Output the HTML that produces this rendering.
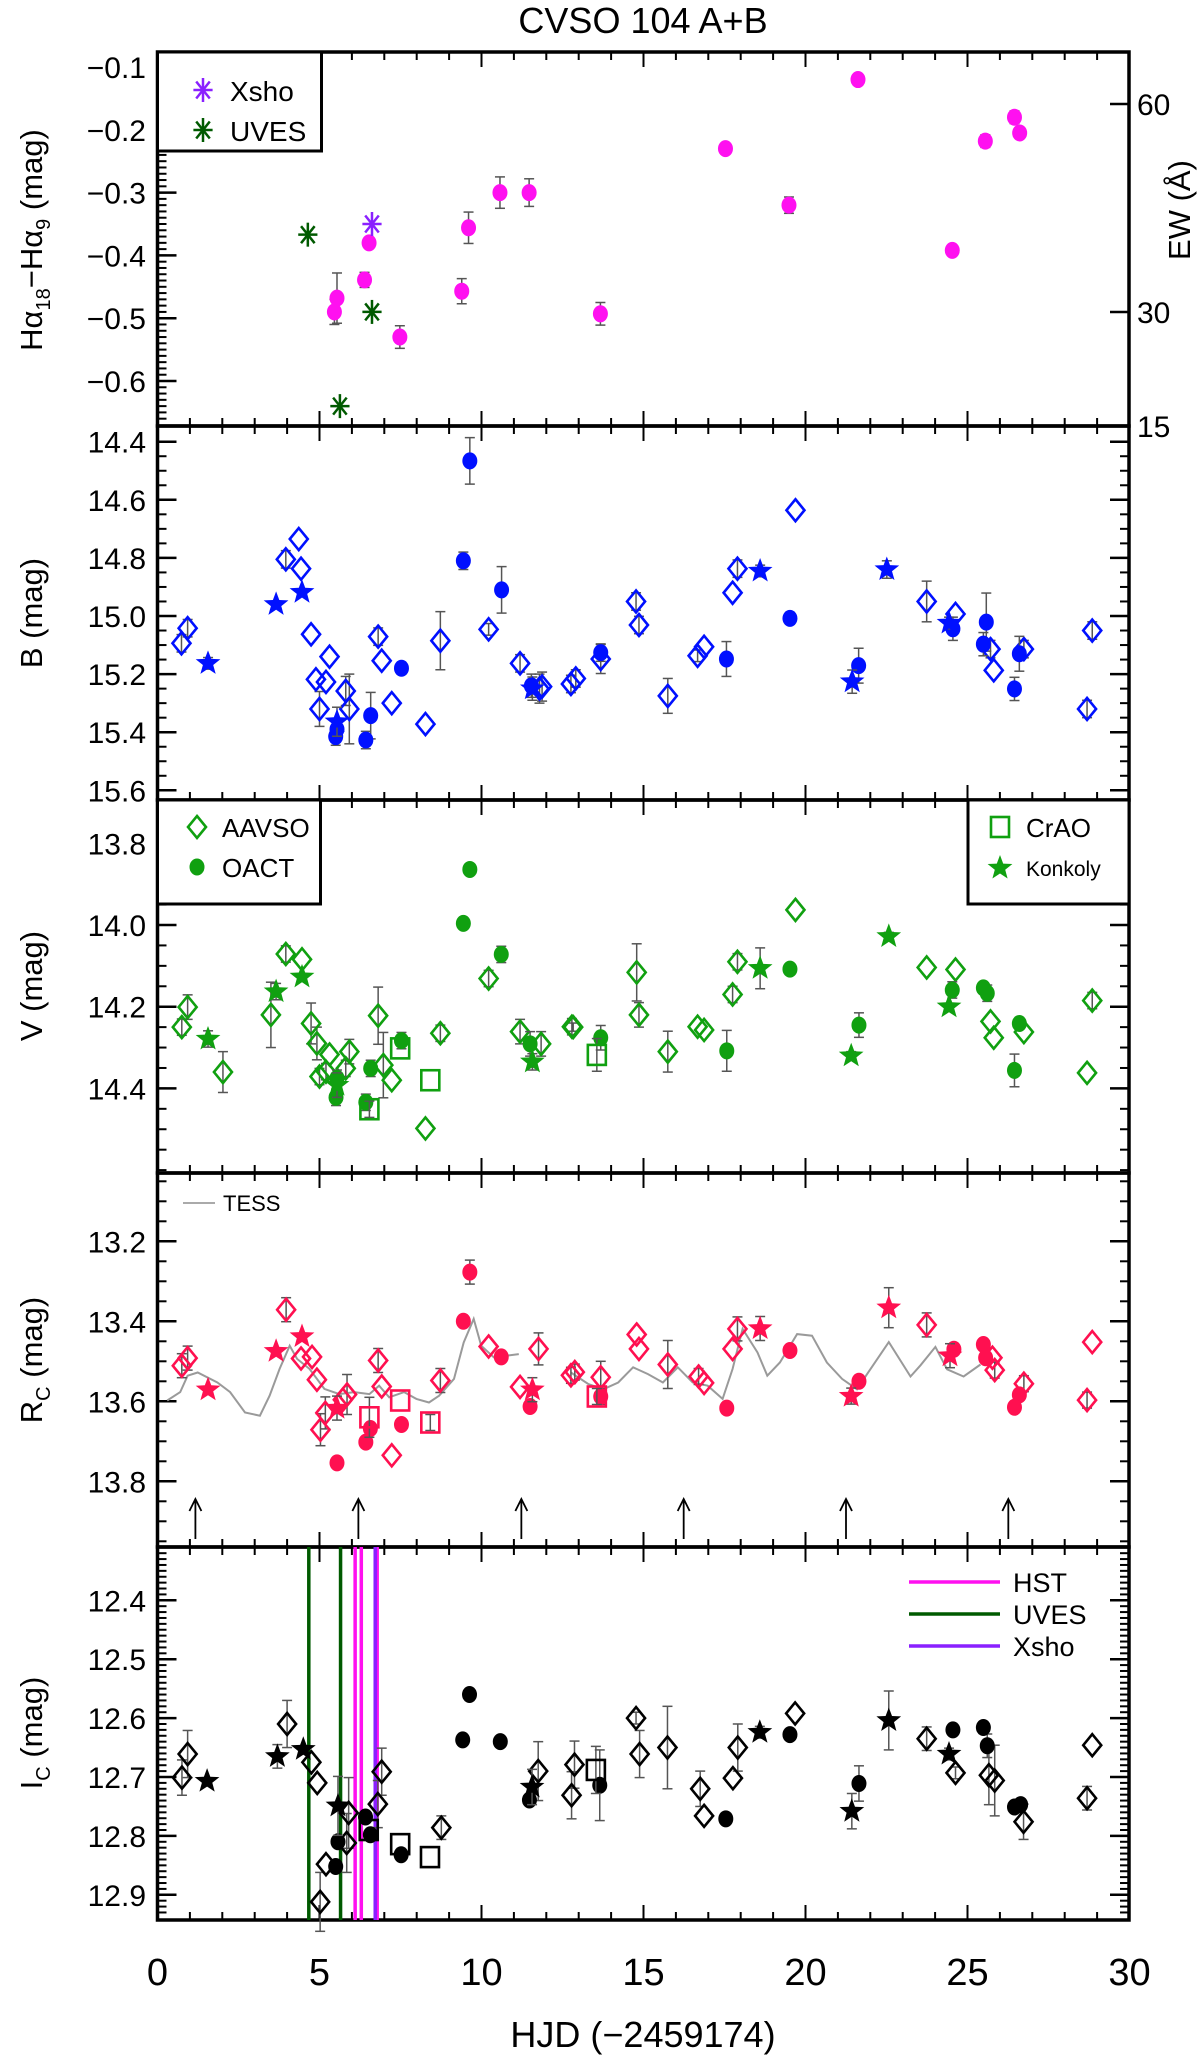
<!DOCTYPE html>
<html><head><meta charset="utf-8"><style>
html,body{margin:0;padding:0;background:#fff;}
svg{display:block;font-family:"Liberation Sans",sans-serif;}
</style></head><body>
<svg id="chart" width="1200" height="2057" viewBox="0 0 1200 2057" xmlns="http://www.w3.org/2000/svg">
<text x="643" y="33" font-size="36" text-anchor="middle">CVSO 104 A+B</text>
<g id="layer"></g>
</svg>
<script>
// ---------- DATA ----------
const haDays=[5.46,5.54,6.39,6.53,7.48,9.39,9.6,10.57,11.47,13.67,17.53,19.49,21.62,24.53,25.55,26.45,26.61];
const haVals=[-0.49,-0.468,-0.439,-0.38,-0.53,-0.457,-0.356,-0.30,-0.30,-0.493,-0.23,-0.32,-0.12,-0.392,-0.218,-0.18,-0.205];
const haErrs=[0.02,0.04,0.012,0.005,0.018,0.02,0.025,0.025,0.022,0.018,0.006,0.013,0.005,0.005,0.01,0.01,0.005];
const xshoDays=[6.62]; const xshoVals=[-0.35];
const uvesDays=[4.64,6.62,5.63]; const uvesVals=[-0.367,-0.49,-0.64];

const bAavsoDays=[0.74,0.93,4.36,3.96,4.43,4.74,5.31,4.89,5.2,5.81,5.0,5.92,6.81,6.92,7.23,8.73,8.27,10.22,11.19,11.79,11.87,12.76,12.91,13.68,14.86,14.77,15.75,16.67,16.87,17.75,17.9,19.69,23.74,24.63,25.71,25.81,26.74,28.85,28.69];
const bAavsoVals=[15.094,15.042,14.735,14.805,14.837,15.063,15.14,15.218,15.227,15.258,15.32,15.32,15.071,15.154,15.3,15.085,15.372,15.046,15.163,15.25,15.243,15.234,15.215,15.148,15.031,14.95,15.275,15.137,15.106,14.92,14.837,14.636,14.95,14.993,15.114,15.187,15.114,15.05,15.32];
const bAavsoErrs=[0.03,0.03,0,0.03,0,0,0,0,0,0.05,0.06,0.12,0.03,0,0,0.1,0,0.02,0.03,0.05,0.05,0.03,0.03,0.05,0.03,0.03,0.06,0.02,0,0,0.03,0,0.07,0,0.03,0,0.03,0.03,0.03];
const bOactDays=[9.64,9.44,10.62,5.5,5.54,6.43,6.58,7.53,11.54,13.68,17.56,19.52,21.64,24.55,25.58,25.49,26.45,26.6];
const bOactVals=[14.466,14.81,14.91,15.415,15.39,15.427,15.343,15.18,15.24,15.126,15.148,15.008,15.171,15.044,15.021,15.097,15.251,15.13];
const bOactErrs=[0.08,0.03,0.08,0.03,0.03,0.03,0.08,0.02,0.04,0.03,0.06,0.02,0.06,0.04,0.1,0.04,0.04,0.06];
const bKonkDays=[3.66,4.46,18.6,22.51,1.56,5.54,21.44,24.43,11.57];
const bKonkVals=[14.96,14.918,14.845,14.84,15.163,15.364,15.226,15.024,15.25];
const bKonkErrs=[0,0,0.02,0.03,0.02,0.05,0.04,0.02,0.04];

const vAavsoDays=[0.75,0.93,2.02,3.5,3.96,4.46,4.74,4.92,5.0,5.31,5.2,5.81,5.92,6.81,6.97,7.23,8.73,8.27,10.22,11.19,11.84,12.79,12.83,14.79,14.86,15.75,16.67,16.87,17.75,17.9,19.69,23.74,24.63,25.71,25.81,26.74,28.85,28.69];
const vAavsoVals=[14.25,14.201,14.36,14.22,14.071,14.084,14.241,14.29,14.371,14.317,14.359,14.351,14.31,14.222,14.343,14.38,14.265,14.498,14.131,14.261,14.291,14.249,14.25,14.116,14.22,14.31,14.249,14.257,14.17,14.09,13.963,14.104,14.109,14.236,14.276,14.262,14.185,14.362];
const vAavsoErrs=[0.02,0.03,0.05,0.08,0.02,0,0.05,0.04,0.02,0,0.02,0.02,0.03,0.07,0.08,0,0.02,0,0.02,0.03,0.03,0.02,0.01,0.07,0.03,0.05,0,0,0.02,0.02,0,0,0,0,0,0,0.02,0];
const vOactDays=[9.64,9.44,10.61,19.52,17.57,21.65,11.5,13.68,7.53,6.43,5.51,5.54,6.58,24.53,25.49,25.61,26.6,26.45];
const vOactVals=[13.864,13.996,14.072,14.108,14.308,14.245,14.291,14.276,14.283,14.434,14.422,14.375,14.351,14.159,14.154,14.167,14.241,14.356];
const vOactErrs=[0.01,0,0.02,0,0.05,0.03,0.03,0.03,0.02,0.02,0.02,0.02,0.02,0.02,0,0.02,0,0.04];
const vCraoDays=[7.49,6.54,8.42,13.56];
const vCraoVals=[14.302,14.451,14.38,14.318];
const vCraoErrs=[0,0.02,0,0.04];
const vKonkDays=[1.56,3.66,4.46,5.54,11.57,18.6,21.41,22.57,24.43];
const vKonkVals=[14.279,14.163,14.127,14.392,14.335,14.106,14.32,14.028,14.2];
const vKonkErrs=[0.02,0.02,0,0.03,0.02,0.05,0.01,0.01,0];

const rAavsoDays=[0.75,0.93,3.97,4.43,4.77,4.92,5.18,5.03,5.85,5.72,6.81,6.92,7.23,8.73,10.22,11.19,11.76,12.76,12.88,13.68,14.79,14.86,15.75,16.7,16.87,17.75,17.9,23.74,25.77,25.84,26.74,28.85,28.69];
const rAavsoVals=[13.511,13.492,13.371,13.493,13.489,13.546,13.629,13.671,13.583,13.596,13.498,13.563,13.735,13.548,13.463,13.564,13.469,13.535,13.527,13.54,13.433,13.469,13.508,13.538,13.554,13.469,13.419,13.409,13.491,13.522,13.556,13.452,13.597];
const rAavsoErrs=[0.03,0.03,0.03,0,0,0,0.04,0.04,0.05,0,0.03,0,0,0.03,0,0,0.04,0.02,0.02,0.04,0,0,0.06,0.02,0,0,0.03,0.03,0,0.02,0.02,0,0.02];
const rOactDays=[9.64,9.44,10.61,5.54,6.43,6.57,7.53,11.5,13.68,17.57,19.52,21.65,24.58,25.49,25.56,26.6,26.45];
const rOactVals=[13.277,13.4,13.489,13.754,13.702,13.668,13.658,13.613,13.588,13.617,13.473,13.55,13.47,13.458,13.491,13.584,13.615];
const rOactErrs=[0.03,0,0,0.01,0,0,0,0,0.02,0,0,0,0,0,0,0,0];
const rCraoDays=[6.54,7.49,8.42,13.56];
const rCraoVals=[13.64,13.598,13.653,13.588];
const rCraoErrs=[0.05,0,0.02,0.02];
const rKonkDays=[1.56,3.66,4.46,5.54,11.57,18.6,21.41,22.57,24.46];
const rKonkVals=[13.571,13.475,13.438,13.617,13.571,13.418,13.587,13.366,13.486];
const rKonkErrs=[0,0,0,0.03,0.03,0.03,0.02,0.05,0.03];
const tessDays=[0.3,0.7,0.93,1.24,1.85,2.24,2.7,3.16,3.46,3.77,4.08,4.31,4.69,5.15,5.61,6.07,6.54,6.84,7.15,7.61,7.99,8.38,8.69,9.15,9.45,9.76,9.99,10.38,10.76,11.15,null,12.76,13.3,13.76,14.22,14.68,15.14,15.6,16.06,16.52,16.98,17.44,17.75,18.06,18.52,18.82,19.21,19.74,20.2,20.66,21.13,21.59,21.9,22.57,23.24,23.55,24.01,24.37,24.88,25.4];
const tessVals=[13.598,13.577,13.536,13.528,13.553,13.577,13.628,13.636,13.586,13.519,13.461,13.494,13.519,13.569,13.582,13.577,13.582,13.561,13.59,13.577,13.594,13.603,13.586,13.544,13.453,13.394,13.461,13.49,13.486,13.482,null,13.528,13.557,13.57,13.553,13.515,13.532,13.553,13.515,13.553,13.561,13.594,13.519,13.419,13.478,13.536,13.503,13.432,13.436,13.503,13.544,13.57,13.532,13.452,13.538,13.51,13.464,13.52,13.538,13.508];
const arrowDays=[1.17,6.2,11.23,16.24,21.25,26.26];

const iAavsoDays=[0.755,0.93,4.0,4.75,4.93,5.2,5.02,5.9,5.84,6.8,6.92,8.76,11.75,12.78,12.87,14.77,14.88,15.74,16.75,16.87,17.76,17.91,19.68,23.74,24.63,25.66,25.84,26.73,28.85,28.69];
const iAavsoVals=[12.701,12.661,12.61,12.675,12.71,12.848,12.912,12.761,12.812,12.746,12.691,12.786,12.69,12.731,12.679,12.6,12.661,12.65,12.72,12.766,12.702,12.65,12.592,12.635,12.693,12.697,12.706,12.776,12.646,12.736];
const iAavsoErrs=[0.03,0.04,0.04,0,0,0,0.05,0.06,0.05,0.04,0.04,0.02,0.05,0.04,0.04,0.01,0.04,0.07,0.03,0,0,0.04,0,0.02,0.01,0.05,0.06,0.03,0,0.02];
const iOactDays=[5.5,5.57,6.42,6.57,7.52,9.42,9.63,10.58,11.48,13.65,17.54,19.52,21.65,24.55,25.49,25.61,26.45,26.64];
const iOactVals=[12.852,12.81,12.768,12.798,12.832,12.637,12.56,12.64,12.739,12.714,12.771,12.628,12.711,12.62,12.616,12.647,12.751,12.747];
const iOactErrs=[0,0,0,0,0,0,0.01,0,0,0.06,0,0,0.03,0,0.01,0.02,0,0.01];
const iCraoDays=[6.52,7.49,8.41,13.53];
const iCraoVals=[12.79,12.814,12.836,12.688];
const iCraoErrs=[0,0,0,0.04];
const iKonkDays=[1.53,3.7,4.5,5.57,11.56,18.59,21.43,22.57,24.43];
const iKonkVals=[12.707,12.665,12.653,12.749,12.717,12.624,12.758,12.604,12.661];
const iKonkErrs=[0,0.02,0,0.05,0.03,0.01,0.03,0.05,0.01];
const hstEpochs=[6.1,6.29,6.78];
const uvesEpochs=[4.67,5.65];
const xshoEpochs=[6.72];

// ---------- LAYOUT ----------
const NS="http://www.w3.org/2000/svg";
const layer=document.getElementById('layer');
const X0=157.5, DX=32.4, XL=157.5, XR=1129;
function xs(d){return X0+d*DX;}
function mk(tag,attrs,parent){const e=document.createElementNS(NS,tag);for(const k in attrs)e.setAttribute(k,attrs[k]);(parent||layer).appendChild(e);return e;}
const panels={
 ha:{top:52,bot:426,y:v=>67+(-0.1-v)*628,inv:y=>-0.1-(y-67)/628,maj:0.1,min:0.01,majors:[-0.1,-0.2,-0.3,-0.4,-0.5,-0.6],fmt:v=>'\u2212'+Math.abs(v).toFixed(1)},
 b:{top:426,bot:800,y:v=>441.7+(v-14.4)*290.5,inv:y=>14.4+(y-441.7)/290.5,min:0.05,majors:[14.4,14.6,14.8,15.0,15.2,15.4,15.6],fmt:v=>v.toFixed(1)},
 v:{top:800,bot:1173,y:v=>843.3+(v-13.8)*408.5,inv:y=>13.8+(y-843.3)/408.5,min:0.05,majors:[13.8,14.0,14.2,14.4],fmt:v=>v.toFixed(1)},
 r:{top:1173,bot:1547,y:v=>1241.3+(v-13.2)*400,inv:y=>13.2+(y-1241.3)/400,min:0.05,majors:[13.2,13.4,13.6,13.8],fmt:v=>v.toFixed(1)},
 i:{top:1547,bot:1920,y:v=>1600.3+(v-12.4)*589,inv:y=>12.4+(y-1600.3)/589,min:0.01,majors:[12.4,12.5,12.6,12.7,12.8,12.9],fmt:v=>v.toFixed(1)}
};

// axes
for(const key in panels){
 const p=panels[key];
 const g=mk('g',{});
 
 
 // x ticks top & bottom
 for(let d=0;d<=30;d++){
  const L=(d%5===0)?15:8, x=xs(d);
  mk('line',{x1:x,x2:x,y1:p.bot,y2:p.bot-L,stroke:'#000','stroke-width':2},g);
  mk('line',{x1:x,x2:x,y1:p.top,y2:p.top+L,stroke:'#000','stroke-width':2},g);
 }
 // minor y ticks
 const vA=p.inv(p.top), vB=p.inv(p.bot);
 const lo=Math.min(vA,vB), hi=Math.max(vA,vB);
 for(let v=Math.ceil(lo/p.min)*p.min; v<=hi; v+=p.min){
  const y=p.y(v); if(y<p.top+2||y>p.bot-2) continue;
  mk('line',{x1:XL,x2:XL+9,y1:y,y2:y,stroke:'#000','stroke-width':2},g);
  if(key!=='ha') mk('line',{x1:XR,x2:XR-9,y1:y,y2:y,stroke:'#000','stroke-width':2},g);
 }
 p.majors.forEach(v=>{
  const y=p.y(v);
  mk('line',{x1:XL,x2:XL+19,y1:y,y2:y,stroke:'#000','stroke-width':2.5},g);
  if(key!=='ha') mk('line',{x1:XR,x2:XR-19,y1:y,y2:y,stroke:'#000','stroke-width':2.5},g);
  const t=mk('text',{x:146,y:y+11,'font-size':30,'text-anchor':'end'},g);
  t.textContent=p.fmt(v);
 });
 mk('rect',{x:XL,y:p.top,width:XR-XL,height:p.bot-p.top,fill:'none',stroke:'#000','stroke-width':3.5},g);
}
// right EW axis
[[60,104],[30,312],[15,426]].forEach(a=>{
 mk('line',{x1:XR,x2:XR-19,y1:a[1],y2:a[1],stroke:'#000','stroke-width':2.5});
 const t=mk('text',{x:1137,y:a[1]+11,'font-size':30});t.textContent=a[0];
});
// x labels
for(let d=0;d<=30;d+=5){const t=mk('text',{x:xs(d),y:1985,'font-size':38,'text-anchor':'middle'});t.textContent=d;
 }
const xt=mk('text',{x:643,y:2047,'font-size':36,'text-anchor':'middle'});xt.textContent='HJD (\u22122459174)';


// y titles
function ytitle(html,cy,name,x){const t=mk('text',{x:0,y:0,'font-size':31,'text-anchor':'middle',transform:`translate(${x||42},${cy}) rotate(-90)`});t.innerHTML=html;
 }
ytitle('H\u03b1<tspan font-size="20" dy="8">18</tspan><tspan dy="-8">\u2212H\u03b1</tspan><tspan font-size="20" dy="8">9</tspan><tspan dy="-8"> (mag)</tspan>',240,'ha-y-axis-title');
ytitle('B (mag)',613,'b-y-axis-title');
ytitle('V (mag)',986,'v-y-axis-title');
ytitle('R<tspan font-size="20" dy="8">C</tspan><tspan dy="-8"> (mag)</tspan>',1360,'rc-y-axis-title');
ytitle('I<tspan font-size="20" dy="8">C</tspan><tspan dy="-8"> (mag)</tspan>',1733,'ic-y-axis-title');
ytitle('EW (\u00c5)',210,'ew-y-axis-title',1190);

// ---------- MARKERS ----------
function starPts(cx,cy,R){let s='';for(let k=0;k<10;k++){const r=k%2?R*0.42:R;const a=-Math.PI/2+k*Math.PI/5;s+=(cx+r*Math.cos(a)).toFixed(1)+','+(cy+r*Math.sin(a)).toFixed(1)+' ';}return s;}
function marker(type,cx,cy,color,g){
 if(type==='circle') return mk('ellipse',{cx,cy,rx:7.5,ry:8.5,fill:color},g);
 if(type==='diamond') return mk('polygon',{points:`${cx},${cy-11} ${cx+9},${cy} ${cx},${cy+11} ${cx-9},${cy}`,fill:'none',stroke:color,'stroke-width':2.6},g);
 if(type==='square') return mk('rect',{x:cx-9,y:cy-10,width:18,height:20,fill:'none',stroke:color,'stroke-width':2.6},g);
 if(type==='star') return mk('polygon',{points:starPts(cx,cy,13),fill:color},g);
 if(type==='asterisk'){const e=mk('g',{stroke:color,'stroke-width':2.5},g);for(let k=0;k<4;k++){const a=k*Math.PI/4;mk('line',{x1:cx-12*Math.cos(a)*0.8,y1:cy-12*Math.sin(a),x2:cx+12*Math.cos(a)*0.8,y2:cy+12*Math.sin(a)},e);}return e;}
}
function series(pk,days,vals,errs,type,color,name){
 const p=panels[pk];
 const g=mk('g',{});
 
 
 days.forEach((d,k)=>{
  const x=xs(d),y=p.y(vals[k]),e=errs?errs[k]:0;
  if(e>0){const y1=p.y(vals[k]-e),y2=p.y(vals[k]+e);
   mk('line',{x1:x,x2:x,y1:y1,y2:y2,stroke:'#555','stroke-width':1.5},g);
   mk('line',{x1:x-5,x2:x+5,y1:y1,y2:y1,stroke:'#555','stroke-width':1.5},g);
   mk('line',{x1:x-5,x2:x+5,y1:y2,y2:y2,stroke:'#555','stroke-width':1.5},g);}
 });
 days.forEach((d,k)=>{const m=marker(type,xs(d),p.y(vals[k]),color,g);
  
  });
}
const MAG='#ff10f0',BLU='#0010ff',GRN='#10a010',RED='#ff1050',BLK='#000';
// TESS
(function(){const p=panels.r;let segs=[],cur=[];
 tessDays.forEach((d,k)=>{if(d===null){segs.push(cur);cur=[];}else cur.push(xs(d).toFixed(1)+','+p.y(tessVals[k]).toFixed(1));});segs.push(cur);
 segs.forEach(s=>{const l=mk('polyline',{points:s.join(' '),fill:'none',stroke:'#9a9a9a','stroke-width':2});
  
  });})();
// Ic epoch lines
function vlines(arr,color,name){arr.forEach(d=>{const l=mk('line',{x1:xs(d),x2:xs(d),y1:panels.i.top,y2:panels.i.bot,stroke:color,'stroke-width':3.5});
 
 });}
vlines(uvesEpochs,'#005a00','uves-epoch-line');
vlines(hstEpochs,'#ff10f0','hst-epoch-line');
vlines(xshoEpochs,'#8a20ff','xsho-epoch-line');

series('ha',haDays,haVals,haErrs,'circle',MAG,'ha-index-point-set');
series('ha',xshoDays,xshoVals,null,'asterisk','#8a20ff','xsho-ew');
series('ha',uvesDays,uvesVals,null,'asterisk','#005a00','uves-ew');

series('b',bAavsoDays,bAavsoVals,bAavsoErrs,'diamond',BLU,'b-aavso');
series('b',bOactDays,bOactVals,bOactErrs,'circle',BLU,'b-oact');
series('b',bKonkDays,bKonkVals,bKonkErrs,'star',BLU,'b-konkoly');

series('v',vAavsoDays,vAavsoVals,vAavsoErrs,'diamond',GRN,'v-aavso');
series('v',vOactDays,vOactVals,vOactErrs,'circle',GRN,'v-oact');
series('v',vCraoDays,vCraoVals,vCraoErrs,'square',GRN,'v-crao');
series('v',vKonkDays,vKonkVals,vKonkErrs,'star',GRN,'v-konkoly');

series('r',rAavsoDays,rAavsoVals,rAavsoErrs,'diamond',RED,'rc-aavso');
series('r',rOactDays,rOactVals,rOactErrs,'circle',RED,'rc-oact');
series('r',rCraoDays,rCraoVals,rCraoErrs,'square',RED,'rc-crao');
series('r',rKonkDays,rKonkVals,rKonkErrs,'star',RED,'rc-konkoly');

series('i',iAavsoDays,iAavsoVals,iAavsoErrs,'diamond',BLK,'ic-aavso');
series('i',iOactDays,iOactVals,iOactErrs,'circle',BLK,'ic-oact');
series('i',iCraoDays,iCraoVals,iCraoErrs,'square',BLK,'ic-crao');
series('i',iKonkDays,iKonkVals,iKonkErrs,'star',BLK,'ic-konkoly');

// arrows
arrowDays.forEach(d=>{const x=xs(d);const g=mk('g',{stroke:'#000','stroke-width':1.8,fill:'none'});
 
 
 mk('line',{x1:x,x2:x,y1:1539,y2:1499},g);mk('polyline',{points:`${x-6},${1511} ${x},${1499} ${x+6},${1511}`},g);});

// ---------- LEGENDS ----------
function legendBox(x,y,w,h,name){const r=mk('rect',{x,y,width:w,height:h,fill:'#fff',stroke:'#000','stroke-width':3});
 }
function ltext(x,y,s,size,name){const t=mk('text',{x,y,'font-size':size||28});t.textContent=s;
 }
legendBox(XL,52,164,99,'ha-legend');
marker('asterisk',203,90,'#8a20ff');ltext(230,101,'Xsho',28,'legend-xsho');
marker('asterisk',203,130,'#005a00');ltext(230,141,'UVES',28,'legend-uves');
legendBox(XL,800,163,104,'v-legend-left');
marker('diamond',197,827,GRN);ltext(222,837,'AAVSO',26,'legend-aavso');
marker('circle',197,867,GRN);ltext(222,877,'OACT',26,'legend-oact');
legendBox(968,800,161,104,'v-legend-right');
marker('square',1000,827,GRN);ltext(1026,837,'CrAO',26,'legend-crao');
marker('star',1000,868,GRN);ltext(1026,876,'Konkoly',21,'legend-konkoly');
mk('line',{x1:183,x2:215,y1:1203,y2:1203,stroke:'#aaa','stroke-width':2});ltext(223,1211,'TESS',22,'legend-tess');
[['HST','#ff10f0',1582],['UVES','#005a00',1614],['Xsho','#8a20ff',1646]].forEach(a=>{
 mk('line',{x1:909,x2:1000,y1:a[2],y2:a[2],stroke:a[1],'stroke-width':3.5});ltext(1013,a[2]+10,a[0],27,'legend-'+a[0].toLowerCase()+'-line');});
</script>
</body></html>
